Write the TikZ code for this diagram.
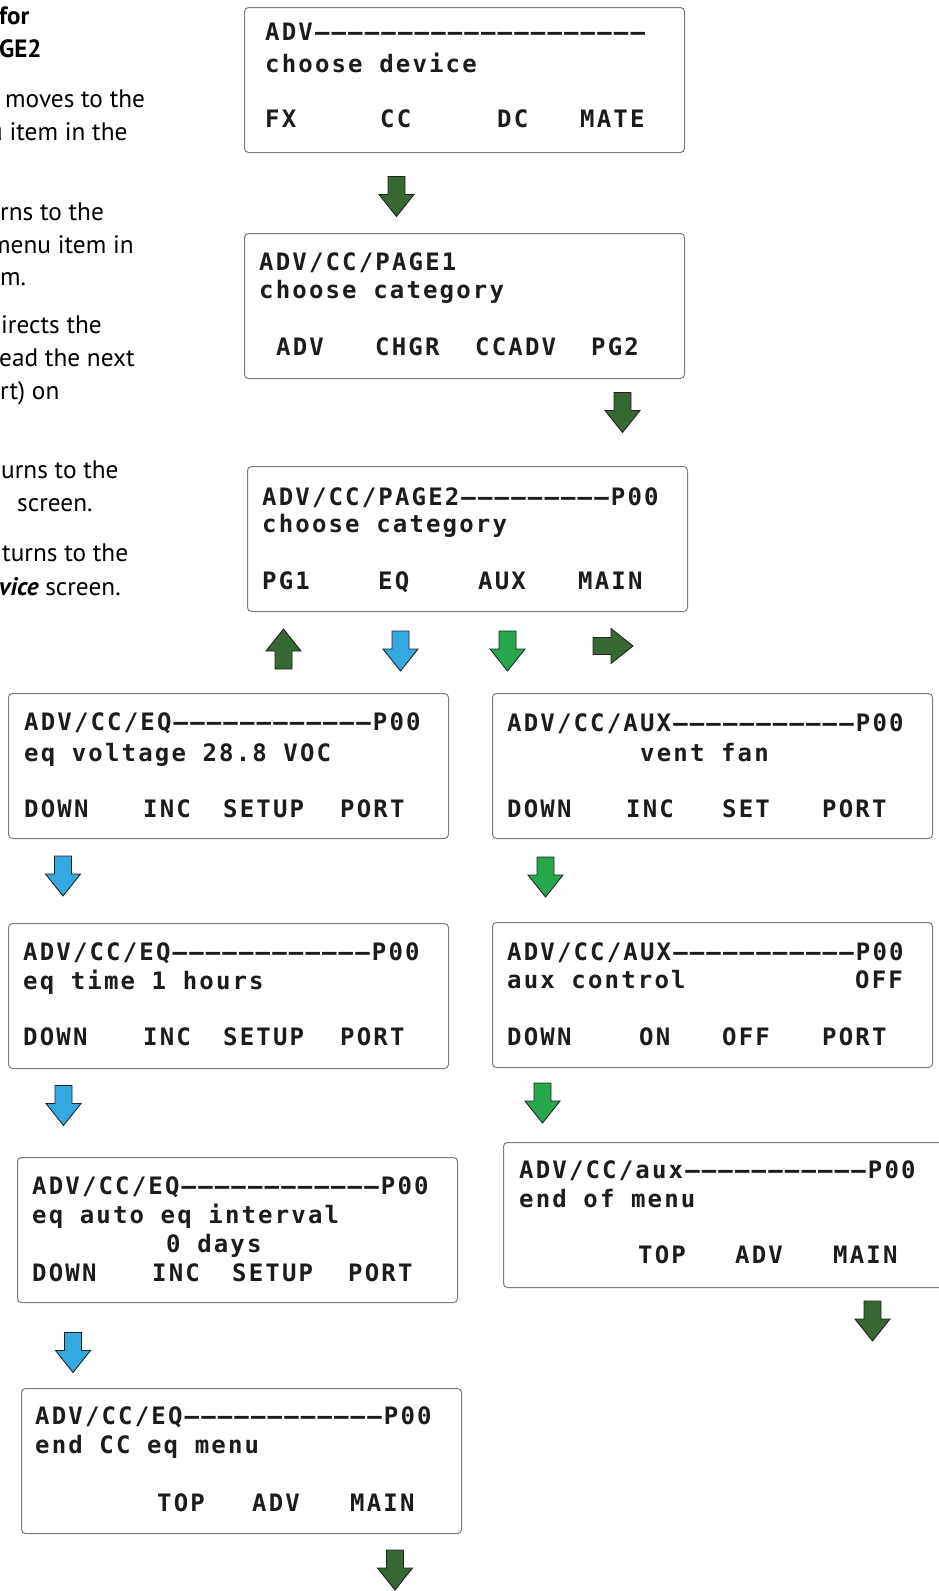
\documentclass[tikz,border=0pt]{standalone}
\usepackage{fontspec}
\newfontfamily\lcdfont[LetterSpace=9]{DejaVu Sans Mono}
\newfontfamily\bodyfont{PT Sans}
\definecolor{dkgreen}{RGB}{54,104,50}
\definecolor{arblue}{RGB}{52,168,224}
\definecolor{argreen}{RGB}{40,168,76}
\definecolor{arline}{RGB}{35,35,35}
\definecolor{boxline}{RGB}{125,125,125}
\definecolor{lcdink}{RGB}{28,28,28}
\tikzset{
  lcdbox/.style={draw=boxline, line width=1pt, rounded corners=4pt, minimum width=440pt, minimum height=145pt, anchor=north west, inner sep=0pt},
  lcd/.style={anchor=base west, inner sep=0pt, text=lcdink, font=\lcdfont\bfseries\fontsize{24}{28}\selectfont},
  body/.style={anchor=base west, inner sep=0pt, text=black, font=\bodyfont\fontsize{25.3}{32}\selectfont},
  head/.style={anchor=base west, inner sep=0pt, text=black, font=\bodyfont\bfseries\fontsize{25}{32}\selectfont},
  pics/blkarrow/.style={code={\filldraw[fill=#1, draw=arline, line width=0.9pt, line join=miter]
    (-8.5,-20) -- (8.5,-20) -- (8.5,-2) -- (17.5,-2) -- (0,20) -- (-17.5,-2) -- (-8.5,-2) -- cycle;}}
}
\begin{document}
\begin{tikzpicture}[x=1pt,y=-1pt]
\useasboundingbox (0,0) rectangle (939,1591);
\fill[white] (0,0) rectangle (939,1591);

% left description text (cut off at the left edge, as in the reference)
\node[head] (h1) at (-1,24) {for};
\node[head] (h2) at (-1,57) {GE2};
\node[body] (t1) at (5,107) {moves to the};
\node[body] (t2) at (-11,140) {u item in the};
\node[body] (t3) at (0,220) {rns to the};
\node[body] (t4) at (-10,253) {menu item in};
\node[body] (t5) at (0,285) {m.};
\node[body] (t6) at (1,333) {irects the};
\node[body] (t7) at (-1,366) {ead the next};
\node[body] (t8) at (0,399) {rt) on};
\node[body] (t9) at (1,478) {urns to the};
\node[body] (t10) at (17,511) {screen.};
\node[body] (t11) at (2,561) {turns to the};
\node[body] (t12) at (-1,595) {{\bfseries\itshape vice} screen.};

% box 1
\node[lcdbox] (b1) at (244,7) {};
\node[lcd] (b1a) at (265,40) {ADV––––––––––––––––––––};
\node[lcd] (b1b) at (265,72) {choose device};
\node[lcd] (b1c) at (265,127) {FX};
\node[lcd] (b1d) at (380,127) {CC};
\node[lcd] (b1e) at (497,127) {DC};
\node[lcd] (b1f) at (580,127) {MATE};

% box 2
\node[lcdbox] (b2) at (244,233) {};
\node[lcd] (b2a) at (259,270) {ADV/CC/PAGE1};
\node[lcd] (b2b) at (259,298) {choose category};
\node[lcd] (b2c) at (276,355) {ADV};
\node[lcd] (b2d) at (375,355) {CHGR};
\node[lcd] (b2e) at (475,355) {CCADV};
\node[lcd] (b2f) at (591,355) {PG2};

% box 3
\node[lcdbox] (b3) at (247,466) {};
\node[lcd] (b3a) at (262,505) {ADV/CC/PAGE2–––––––––P00};
\node[lcd] (b3b) at (262,532) {choose category};
\node[lcd] (b3c) at (262,589) {PG1};
\node[lcd] (b3d) at (378,589) {EQ};
\node[lcd] (b3e) at (478,589) {AUX};
\node[lcd] (b3f) at (578,589) {MAIN};

% EQ 1
\node[lcdbox] (e1) at (8,693) {};
\node[lcd] (e1a) at (24,730) {ADV/CC/EQ––––––––––––P00};
\node[lcd] (e1b) at (24,761) {eq voltage 28.8 VOC};
\node[lcd] (e1c) at (24,817) {DOWN};
\node[lcd] (e1d) at (143,817) {INC};
\node[lcd] (e1e) at (223,817) {SETUP};
\node[lcd] (e1f) at (340,817) {PORT};

% AUX 1
\node[lcdbox] (x1) at (492,693) {};
\node[lcd] (x1a) at (507,731) {ADV/CC/AUX–––––––––––P00};
\node[lcd] (x1b) at (640,761) {vent fan};
\node[lcd] (x1c) at (507,817) {DOWN};
\node[lcd] (x1d) at (626,817) {INC};
\node[lcd] (x1e) at (722,817) {SET};
\node[lcd] (x1f) at (822,817) {PORT};

% EQ 2
\node[lcdbox] (e2) at (8,923) {};
\node[lcd] (e2a) at (23,960) {ADV/CC/EQ––––––––––––P00};
\node[lcd] (e2b) at (23,989) {eq time 1 hours};
\node[lcd] (e2c) at (23,1045) {DOWN};
\node[lcd] (e2d) at (143,1045) {INC};
\node[lcd] (e2e) at (223,1045) {SETUP};
\node[lcd] (e2f) at (340,1045) {PORT};

% AUX 2
\node[lcdbox] (x2) at (492,922) {};
\node[lcd] (x2a) at (507,960) {ADV/CC/AUX–––––––––––P00};
\node[lcd] (x2b) at (507,988) {aux control};
\node[lcd] (x2g) at (855,988) {OFF};
\node[lcd] (x2c) at (507,1045) {DOWN};
\node[lcd] (x2d) at (639,1045) {ON};
\node[lcd] (x2e) at (722,1045) {OFF};
\node[lcd] (x2f) at (822,1045) {PORT};

% EQ 3
\node[lcdbox] (e3) at (17,1157) {};
\node[lcd] (e3a) at (32,1194) {ADV/CC/EQ––––––––––––P00};
\node[lcd] (e3b) at (32,1223) {eq auto eq interval};
\node[lcd] (e3g) at (166,1252) {0 days};
\node[lcd] (e3c) at (32,1281) {DOWN};
\node[lcd] (e3d) at (152,1281) {INC};
\node[lcd] (e3e) at (232,1281) {SETUP};
\node[lcd] (e3f) at (348,1281) {PORT};

% AUX end
\node[lcdbox] (x3) at (503,1142) {};
\node[lcd] (x3a) at (519,1178) {ADV/CC/aux–––––––––––P00};
\node[lcd] (x3b) at (519,1207) {end of menu};
\node[lcd] (x3c) at (638,1263) {TOP};
\node[lcd] (x3d) at (735,1263) {ADV};
\node[lcd] (x3e) at (833,1263) {MAIN};

% EQ end
\node[lcdbox] (e4) at (21,1388) {};
\node[lcd] (e4a) at (35,1424) {ADV/CC/EQ––––––––––––P00};
\node[lcd] (e4b) at (35,1453) {end CC eq menu};
\node[lcd] (e4c) at (157,1511) {TOP};
\node[lcd] (e4d) at (252,1511) {ADV};
\node[lcd] (e4e) at (350,1511) {MAIN};

% block arrows
\pic (a1) at (396.5,196.5) {blkarrow=dkgreen};
\pic (a2) at (622.5,412.5) {blkarrow=dkgreen};
\pic[rotate=180] (a3) at (283.5,649) {blkarrow=dkgreen};
\pic (a4) at (400.5,651) {blkarrow=arblue};
\pic (a5) at (507.5,651) {blkarrow=argreen};
\pic[rotate=90] (a6) at (613,646) {blkarrow=dkgreen};
\pic (a7) at (63,876) {blkarrow=arblue};
\pic (a8) at (545.5,877) {blkarrow=argreen};
\pic (a9) at (63.5,1105.5) {blkarrow=arblue};
\pic (a10) at (542.5,1103) {blkarrow=argreen};
\pic (a11) at (73,1352.5) {blkarrow=arblue};
\pic (a12) at (872.5,1321) {blkarrow=dkgreen};
\pic (a13) at (395,1570) {blkarrow=dkgreen};
\end{tikzpicture}
\end{document}
